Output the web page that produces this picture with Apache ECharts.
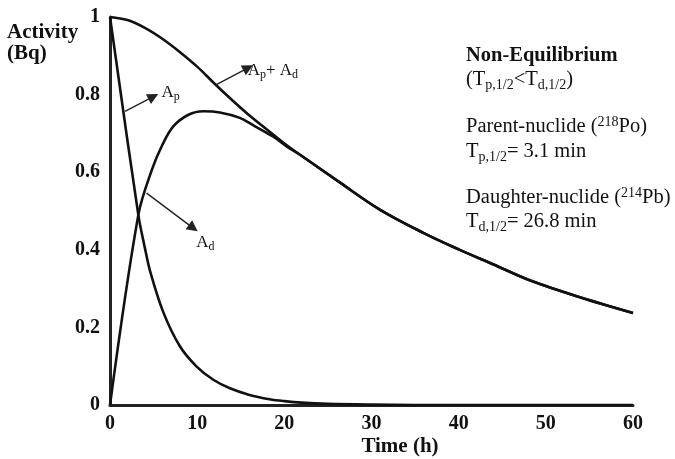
<!DOCTYPE html>
<html>
<head>
<meta charset="utf-8">
<script src="https://cdn.jsdelivr.net/npm/echarts@6/dist/echarts.min.js"></script>
<style>
html,body{margin:0;padding:0;background:#fff;}
#chart{width:675px;height:459px;}
</style>
</head>
<body>
<div id="chart"></div>
<script>
// ---- data ----
const parentTime     = [0, 3.25, 4.0, 4.6, 6.1, 8.0, 9.94, 11.85, 13.76, 16.0, 18.3, 20, 22, 25, 30, 35, 45, 60];
const parentActivity = [1, 0.49, 0.405, 0.345, 0.24, 0.152, 0.099, 0.065, 0.043, 0.026, 0.015, 0.01, 0.006, 0.003, 0.001, 0, 0, 0];

const daughterTime     = [0, 3.25, 4.8, 6.0, 7.26, 9.0, 10.7, 12.6, 14.9, 16.5, 18.7, 20.3, 21.8, 26.4, 31, 36, 40, 44, 48.3, 54, 60];
const daughterActivity = [0, 0.49, 0.606, 0.67, 0.718, 0.748, 0.757, 0.754, 0.74, 0.72, 0.692, 0.666, 0.645, 0.573, 0.503, 0.443, 0.401, 0.362, 0.32, 0.277, 0.237];

const totalTime     = [0, 2, 4, 6, 8, 10, 12, 14, 16, 18, 20, 21.8, 26.4, 31, 36, 40, 44, 48.3, 54, 60];
const totalActivity = [1, 0.992, 0.972, 0.944, 0.91, 0.872, 0.828, 0.786, 0.746, 0.71, 0.674, 0.645, 0.573, 0.503, 0.443, 0.401, 0.362, 0.32, 0.277, 0.237];

const xTicks = [0, 10, 20, 30, 40, 50, 60];
const yTicks = [0, 0.2, 0.4, 0.6, 0.8, 1];

// annotation arrows: [tail, head] in data units
const arrowParent   = [[1.72, 0.757], [4.97, 0.795]];
const arrowTotal    = [[12.2, 0.826], [15.85, 0.869]];
const arrowDaughter = [[4.2, 0.546], [9.55, 0.456]];
// label anchors (left-middle) in data units
const labelParentAt   = [5.9, 0.806];
const labelTotalAt    = [15.8, 0.862];
const labelDaughterAt = [9.9, 0.42];

const zip = (xs, ys) => xs.map((x, i) => [x, ys[i]]);

const SERIF = '"Liberation Serif", "Times New Roman", serif';
const INK = '#111';

const subRich = {
  n: {fontFamily: SERIF, fontSize: 17, color: INK},
  s: {fontFamily: SERIF, fontSize: 12, color: INK, padding: [9, 0, 0, 0]}
};

const chart = echarts.init(document.getElementById('chart'), null, {renderer: 'canvas'});

const curveStyle = {color: INK, width: 2.6};

const option = {
  animation: false,
  backgroundColor: '#fff',
  grid: {left: 110, right: 42, top: 17, bottom: 54, containLabel: false},
  xAxis: {
    type: 'value', min: xTicks[0], max: xTicks[xTicks.length - 1], interval: 10,
    axisLine: {show: true, onZero: false, lineStyle: {color: '#222', width: 3}},
    axisTick: {show: false}, splitLine: {show: false},
    axisLabel: {margin: 9, fontFamily: SERIF, fontWeight: 'bold', fontSize: 20, color: INK}
  },
  yAxis: {
    type: 'value', min: yTicks[0], max: yTicks[yTicks.length - 1], interval: 0.2,
    axisLine: {show: true, onZero: false, lineStyle: {color: '#222', width: 3}},
    axisTick: {show: false}, splitLine: {show: false},
    axisLabel: {margin: 10, fontFamily: SERIF, fontWeight: 'bold', fontSize: 20, color: INK}
  },
  series: [
    {name: 'Ap', type: 'line', data: zip(parentTime, parentActivity), showSymbol: false, symbol: 'none',
     smooth: 0.35, lineStyle: curveStyle, z: 3},
    {name: 'Ad', type: 'line', data: zip(daughterTime, daughterActivity), showSymbol: false, symbol: 'none',
     smooth: 0.35, lineStyle: curveStyle, z: 3},
    {name: 'Ap+Ad', type: 'line', data: zip(totalTime, totalActivity), showSymbol: false, symbol: 'none',
     smooth: 0.35, lineStyle: curveStyle, z: 3},
    {name: 'annotations', type: 'line', data: [], symbol: 'none',
     markLine: {
       silent: true, symbol: ['none', 'triangle'], symbolSize: 11,
       lineStyle: {color: '#222', width: 1.4, type: 'solid'},
       itemStyle: {color: '#111'},
       label: {show: false},
       data: [
         [{coord: arrowParent[0]}, {coord: arrowParent[1]}],
         [{coord: arrowTotal[0]}, {coord: arrowTotal[1]}],
         [{coord: arrowDaughter[0]}, {coord: arrowDaughter[1]}]
       ]
     },
     markPoint: {
       silent: true, symbol: 'circle', symbolSize: 0,
       label: {show: true, position: 'right', distance: 0, rich: subRich},
       data: [
         {coord: labelParentAt, label: {formatter: '{n|A}{s|p}'}},
         {coord: labelTotalAt, label: {formatter: '{n|A}{s|p}{n|+ A}{s|d}'}},
         {coord: labelDaughterAt, label: {formatter: '{n|A}{s|d}'}}
       ]
     }
    }
  ],
  graphic: []
};

const rightRich = {
  n: {fontFamily: SERIF, fontSize: 20.5, color: INK},
  b: {fontFamily: SERIF, fontSize: 20.5, fontWeight: 'bold', color: INK},
  s: {fontFamily: SERIF, fontSize: 14, color: INK, padding: [10, 0, 0, 0]},
  u: {fontFamily: SERIF, fontSize: 14, color: INK, padding: [0, 0, 10, 0]}
};
const rightLines = [
  ['{b|Non-Equilibrium}', 56],
  ['{n|(T}{s|p,1/2}{n|<T}{s|d,1/2}{n|)}', 80],
  ['{n|Parent-nuclide (}{u|218}{n|Po)}', 127],
  ['{n|T}{s|p,1/2}{n|= 3.1 min}', 152],
  ['{n|Daughter-nuclide (}{u|214}{n|Pb)}', 198],
  ['{n|T}{s|d,1/2}{n|= 26.8 min}', 222]
];
rightLines.forEach(([t, y]) => {
  option.graphic.push({type: 'text', x: 466, y: y, silent: true,
    style: {text: t, rich: rightRich, verticalAlign: 'middle', fill: INK}});
});
option.graphic.push({type: 'text', x: 7, y: 33, silent: true,
  style: {text: 'Activity', font: 'bold 21px ' + SERIF, fill: INK, verticalAlign: 'middle'}});
option.graphic.push({type: 'text', x: 7, y: 54, silent: true,
  style: {text: '(Bq)', font: 'bold 21px ' + SERIF, fill: INK, verticalAlign: 'middle'}});
option.graphic.push({type: 'text', x: 400, y: 447, silent: true,
  style: {text: 'Time (h)', font: 'bold 21px ' + SERIF, fill: INK, align: 'center', verticalAlign: 'middle'}});

chart.setOption(option);
</script>
</body>
</html>
